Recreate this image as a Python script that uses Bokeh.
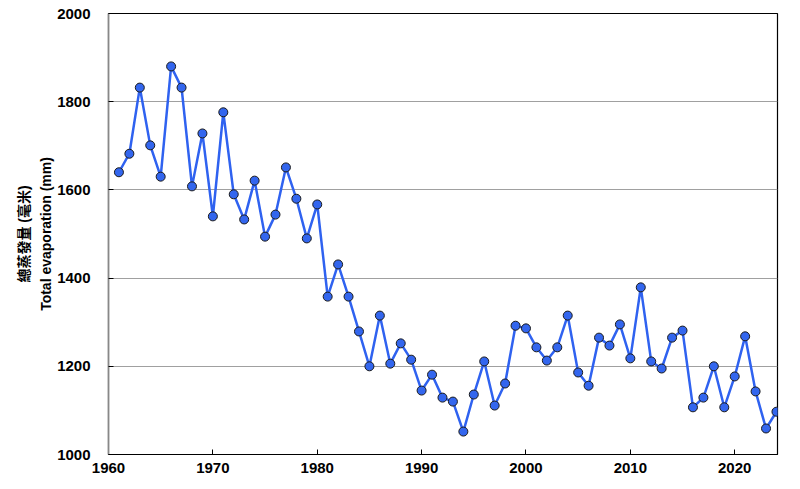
from bokeh.plotting import figure
from bokeh.embed import file_html
from bokeh.resources import INLINE
from bokeh.models import FixedTicker, Range1d

years = list(range(1961, 2025))
evaporation = [
    1640, 1682, 1832, 1701, 1630, 1880, 1832, 1608, 1728, 1540,
    1776, 1590, 1533, 1621, 1494, 1544, 1651, 1580, 1490, 1567,
    1358, 1431, 1358, 1279, 1200, 1315, 1206, 1252, 1215, 1145,
    1181, 1129, 1120, 1052, 1136, 1211, 1111, 1161, 1292, 1286,
    1243, 1213, 1243, 1315, 1186, 1156, 1265, 1247, 1295, 1218,
    1379, 1211, 1195, 1265, 1281, 1107, 1129, 1200, 1107, 1177,
    1268, 1143, 1059, 1097,
]
x_ticks = [1960, 1970, 1980, 1990, 2000, 2010, 2020]
y_ticks = [1000, 1200, 1400, 1600, 1800, 2000]
y_label = "總蒸發量 (毫米)\nTotal evaporation (mm)"

FONT = "Liberation Sans, 'Noto Sans CJK TC', sans-serif"

p = figure(
    frame_width=669, frame_height=441,
    x_range=Range1d(1960, 2024.1), y_range=Range1d(1000, 2000),
    output_backend="svg", toolbar_location=None,
    min_border_left=108, min_border_right=15, min_border_top=13, min_border_bottom=30,
)
p.background_fill_color = "white"
p.border_fill_color = "white"
p.outline_line_color = "black"
p.outline_line_width = 1.2

p.xgrid.grid_line_color = None
p.ygrid.grid_line_color = "#a0a0a0"
p.ygrid.grid_line_width = 1.2

p.xaxis.ticker = FixedTicker(ticks=x_ticks)
p.yaxis.ticker = FixedTicker(ticks=y_ticks)
for ax in (p.xaxis[0], p.yaxis[0]):
    ax.major_tick_in = 5
    ax.major_tick_out = 0
    ax.minor_tick_in = 0
    ax.minor_tick_out = 0
    ax.major_label_text_font = FONT
    ax.major_label_text_font_style = "bold"
    ax.major_label_text_font_size = "15px"
    ax.major_label_text_color = "black"
p.xaxis.axis_line_color = "black"
p.xaxis.major_tick_line_color = "black"
p.yaxis.axis_line_color = "#888888"
p.yaxis.axis_line_width = 1.5
p.yaxis.major_tick_line_color = "black"
p.xaxis.major_label_standoff = 8
p.yaxis.major_label_standoff = 18

p.yaxis.axis_label = y_label
p.yaxis.axis_label_text_font = FONT
p.yaxis.axis_label_text_font_style = "bold"
p.yaxis.axis_label_text_font_size = "14px"
p.yaxis.axis_label_text_color = "black"
p.yaxis.axis_label_text_line_height = 1.4
p.yaxis.axis_label_standoff = 0

p.line(years, evaporation, line_color="#2f62f0", line_width=2.5)
p.scatter(years, evaporation, size=9, fill_color="#3366ee", line_color="#1a1a1a", line_width=1)

open("out.html", "w").write(file_html(p, INLINE))
